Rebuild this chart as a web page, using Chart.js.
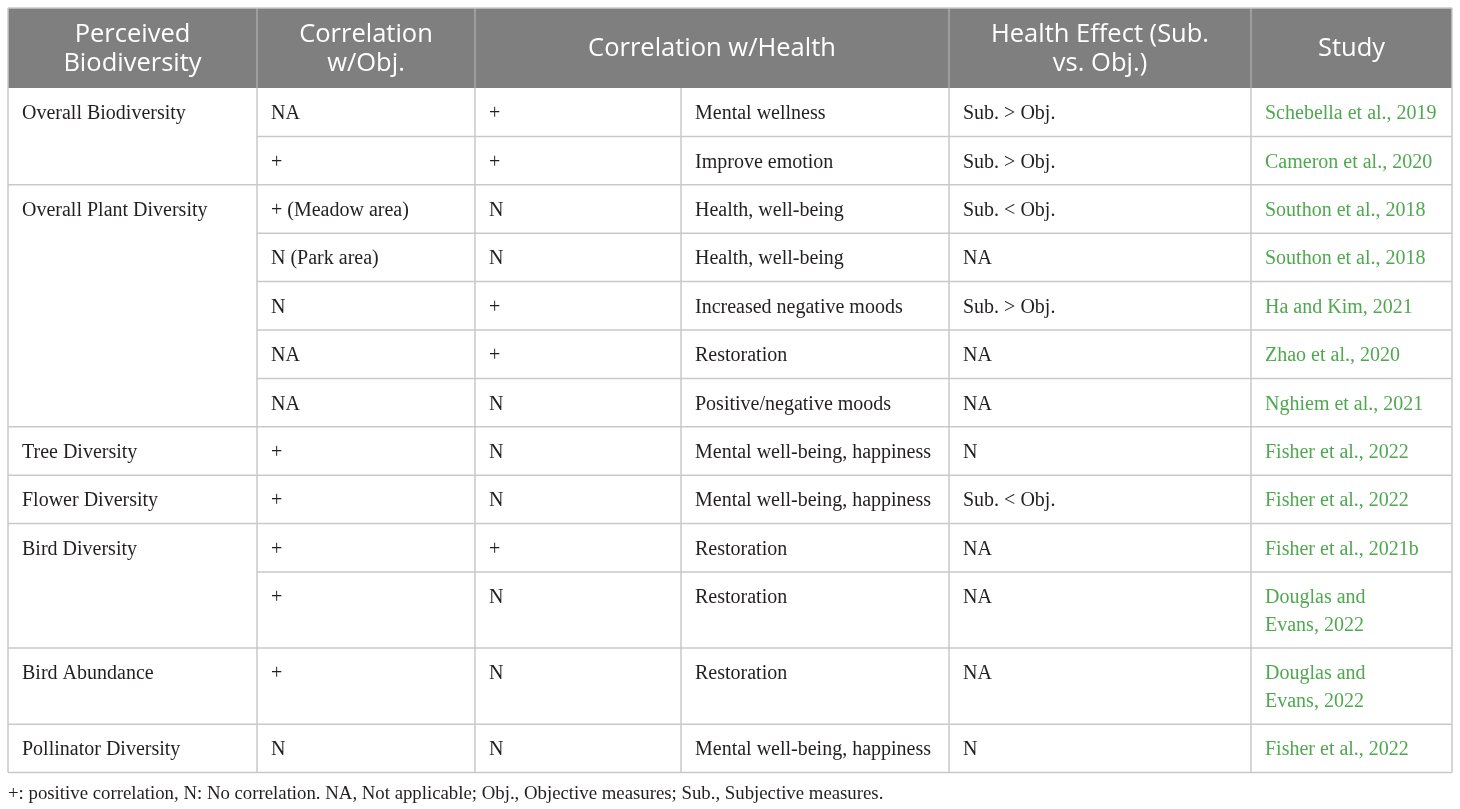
<!DOCTYPE html>
<html>
<head>
<meta charset="utf-8">
<script src="https://cdn.jsdelivr.net/npm/chart.js@4.4.1/dist/chart.umd.min.js"></script>
<style>
  html, body { margin: 0; padding: 0; background: #fff; }
  #wrap { width: 1460px; height: 809px; }
</style>
</head>
<body>
<div id="wrap"><canvas id="tableChart" width="1460" height="809"></canvas></div>
<script>
// Table content
const headerLines = [
    ['Perceived', 'Biodiversity'],
    ['Correlation', 'w/Obj.'],
    ['Correlation w/Health'],
    ['Health Effect (Sub.', 'vs. Obj.)'],
    ['Study']
];
// first column: group name and how many rows it spans
const perceivedGroups = [
    ['Overall Biodiversity', 2],
    ['Overall Plant Diversity', 5],
    ['Tree Diversity', 1],
    ['Flower Diversity', 1],
    ['Bird Diversity', 2],
    ['Bird Abundance', 1],
    ['Pollinator Diversity', 1]
];
const corrObj = ['NA', '+', '+ (Meadow area)', 'N (Park area)', 'N', 'NA', 'NA', '+', '+', '+', '+', '+', 'N'];
const corrHealth = ['+', '+', 'N', 'N', '+', '+', 'N', 'N', 'N', '+', 'N', 'N', 'N'];
const healthOutcome = ['Mental wellness', 'Improve emotion', 'Health, well-being', 'Health, well-being',
    'Increased negative moods', 'Restoration', 'Positive/negative moods', 'Mental well-being, happiness',
    'Mental well-being, happiness', 'Restoration', 'Restoration', 'Restoration', 'Mental well-being, happiness'];
const healthEffect = ['Sub. > Obj.', 'Sub. > Obj.', 'Sub. < Obj.', 'NA', 'Sub. > Obj.', 'NA', 'NA', 'N',
    'Sub. < Obj.', 'NA', 'NA', 'NA', 'N'];
// year kept with the last author name (non-breaking space)
const study = ['Schebella et al., 2019', 'Cameron et al., 2020', 'Southon et al., 2018', 'Southon et al., 2018',
    'Ha and Kim, 2021', 'Zhao et al., 2020', 'Nghiem et al., 2021', 'Fisher et al., 2022', 'Fisher et al., 2022',
    'Fisher et al., 2021b', 'Douglas and Evans,\u00a02022', 'Douglas and Evans,\u00a02022', 'Fisher et al., 2022'];
const footnote = '+: positive correlation, N: No correlation. NA, Not applicable; Obj., Objective measures; Sub., Subjective measures.';

// layout (table units = canvas px)
const colEdges = [8, 257, 475, 681, 949, 1251, 1452];
const headerSpan = [[0, 1], [1, 2], [2, 4], [4, 5], [5, 6]];
const tableTop = 8, headerH = 80, rowH = 48.4, lineH = 27.7, pad = 14;
const bodyFont = '20px "Liberation Serif", "Times New Roman", serif';
const headFont = '25.5px "Open Sans", "Noto Sans", sans-serif';

function wrap(ctx, text, maxW) {
    const words = text.split(' ');
    const lines = [];
    let cur = '';
    words.forEach(w => {
        const t = cur ? cur + ' ' + w : w;
        if (cur && ctx.measureText(t).width > maxW) { lines.push(cur); cur = w; } else cur = t;
    });
    lines.push(cur);
    return lines;
}

const tablePlugin = {
    id: 'tablePlugin',
    afterDraw(chart) {
        const ctx = chart.ctx;
        const xs = chart.scales.x, ys = chart.scales.y;
        const X = v => xs.getPixelForValue(v);
        const Y = v => ys.getPixelForValue(v);
        ctx.save();

        // body cells: row heights follow the wrapped text
        ctx.font = bodyFont;
        const cols = [corrObj, corrHealth, healthOutcome, healthEffect, study];
        const cells = study.map((_, r) => cols.map((c, i) =>
            wrap(ctx, c[r], colEdges[i + 2] - colEdges[i + 1] - 2 * pad + 6)));
        const rowTops = [tableTop + headerH];
        cells.forEach((row, r) => {
            const n = Math.max(...row.map(l => l.length));
            rowTops.push(rowTops[r] + rowH + (n - 1) * lineH);
        });
        const bottom = rowTops[rowTops.length - 1];

        // header
        ctx.fillStyle = '#7e7f7e';
        ctx.fillRect(X(colEdges[0]), Y(tableTop), X(colEdges[6]) - X(colEdges[0]), Y(tableTop + headerH) - Y(tableTop));
        ctx.strokeStyle = '#a9aaa9';
        ctx.lineWidth = 1.5;
        headerSpan.forEach(([a]) => {
            if (a === 0) return;
            ctx.beginPath(); ctx.moveTo(X(colEdges[a]), Y(tableTop)); ctx.lineTo(X(colEdges[a]), Y(tableTop + headerH)); ctx.stroke();
        });
        ctx.fillStyle = '#ffffff';
        ctx.font = headFont;
        ctx.textAlign = 'center';
        ctx.textBaseline = 'middle';
        headerLines.forEach((lines, i) => {
            const [a, b] = headerSpan[i];
            const cx = (colEdges[a] + colEdges[b]) / 2;
            const cy = tableTop + headerH / 2 + 1;
            lines.forEach((t, k) => {
                ctx.fillText(t, X(cx), Y(cy + (k - (lines.length - 1) / 2) * 29.5));
            });
        });

        // grid lines
        ctx.strokeStyle = '#c9c9c9';
        ctx.lineWidth = 1.5;
        const hLine = (y, x0, x1) => { ctx.beginPath(); ctx.moveTo(X(x0), Y(y)); ctx.lineTo(X(x1), Y(y)); ctx.stroke(); };
        const vLine = (x, y0, y1) => { ctx.beginPath(); ctx.moveTo(X(x), Y(y0)); ctx.lineTo(X(x), Y(y1)); ctx.stroke(); };
        hLine(tableTop, colEdges[0], colEdges[6]);
        let r0 = 0;
        const groupStarts = [];
        perceivedGroups.forEach(([, span]) => { groupStarts.push(r0); r0 += span; });
        for (let r = 1; r <= rowTops.length - 1; r++) {
            const full = groupStarts.includes(r) || r === rowTops.length - 1;
            hLine(rowTops[r], full ? colEdges[0] : colEdges[1], colEdges[6]);
        }
        colEdges.forEach((x, i) => {
            vLine(x, (i === 0 || i === 6) ? tableTop : tableTop + headerH, bottom);
        });

        // body text
        ctx.textAlign = 'left';
        ctx.font = bodyFont;
        ctx.fillStyle = '#231f20';
        perceivedGroups.forEach(([name], g) => {
            const top = rowTops[groupStarts[g]];
            ctx.fillText(name, X(colEdges[0] + pad), Y(top + 26));
        });
        cells.forEach((row, r) => {
            row.forEach((lines, i) => {
                ctx.fillStyle = i === 4 ? '#4fa84f' : '#231f20';
                lines.forEach((t, k) => {
                    ctx.fillText(t, X(colEdges[i + 1] + pad), Y(rowTops[r] + 26 + k * lineH));
                });
            });
        });

        // footnote
        ctx.fillStyle = '#231f20';
        ctx.font = '18.8px "Liberation Serif", "Times New Roman", serif';
        ctx.fillText(footnote, X(colEdges[0]), Y(bottom + 21.5));
        ctx.restore();
    }
};

new Chart(document.getElementById('tableChart').getContext('2d'), {
    type: 'scatter',
    data: { datasets: [{ data: [] }] },
    options: {
        responsive: false,
        animation: false,
        events: [],
        layout: { padding: 0 },
        plugins: { legend: { display: false }, tooltip: { enabled: false } },
        scales: {
            x: { type: 'linear', min: 0, max: 1460, display: false },
            y: { type: 'linear', min: 0, max: 809, reverse: true, display: false }
        }
    },
    plugins: [tablePlugin]
});
</script>
</body>
</html>
